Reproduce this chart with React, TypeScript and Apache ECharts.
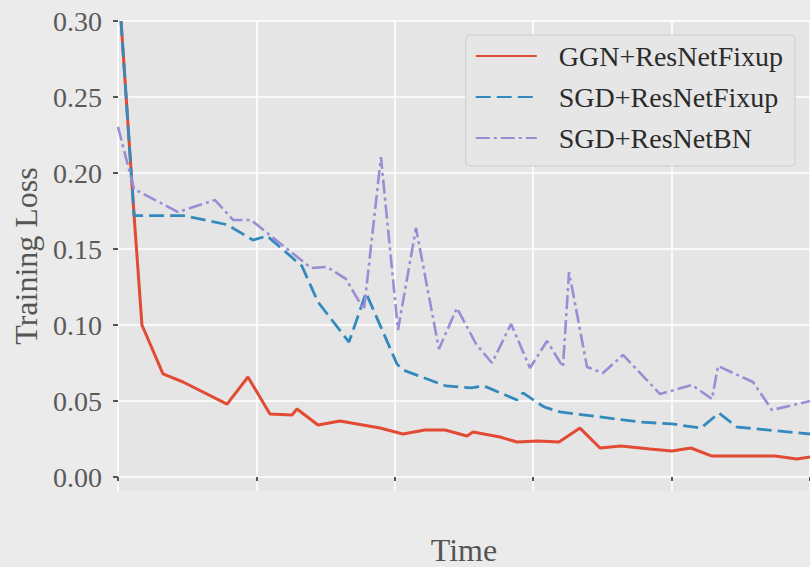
import React, { useEffect, useRef } from "react";
import * as echarts from "echarts";

// Time (x) and training loss (y) values
const ggnTime = [0.022, 0.116, 0.173, 0.325, 0.47, 0.788, 0.939, 1.098, 1.257, 1.293, 1.445, 1.604, 1.893, 2.059, 2.218, 2.363, 2.522, 2.565, 2.76, 2.883, 3.035, 3.186, 3.338, 3.483, 3.634, 3.844, 4.003, 4.14, 4.292, 4.747, 4.906, 5.0];
const ggnLoss = [0.3, 0.1724, 0.1, 0.0678, 0.0625, 0.048, 0.0658, 0.0414, 0.0408, 0.0447, 0.0342, 0.0368, 0.0322, 0.0283, 0.0309, 0.0309, 0.027, 0.0296, 0.0263, 0.023, 0.0237, 0.023, 0.0322, 0.0191, 0.0204, 0.0184, 0.0171, 0.0191, 0.0138, 0.0138, 0.0118, 0.0132];

const sgdFixTime = [0.022, 0.116, 0.47, 0.788, 0.975, 1.077, 1.329, 1.445, 1.669, 1.792, 2.016, 2.059, 2.37, 2.551, 2.645, 2.883, 2.926, 3.078, 3.194, 3.483, 3.772, 4.003, 4.212, 4.342, 4.473, 5.0];
const sgdFixLoss = [0.3, 0.172, 0.172, 0.166, 0.1559, 0.1586, 0.1388, 0.1151, 0.0888, 0.1211, 0.0743, 0.0704, 0.0599, 0.0586, 0.0599, 0.0507, 0.0553, 0.0461, 0.0428, 0.0395, 0.0362, 0.0349, 0.0322, 0.0421, 0.0329, 0.0283];

const sgdBNTime = [0.0, 0.116, 0.434, 0.701, 0.831, 0.961, 1.395, 1.51, 1.647, 1.777, 1.9, 2.023, 2.153, 2.319, 2.449, 2.587, 2.702, 2.84, 2.977, 3.1, 3.215, 3.259, 3.389, 3.504, 3.649, 3.916, 4.147, 4.292, 4.335, 4.588, 4.725, 5.0];
const sgdBNLoss = [0.2303, 0.1895, 0.1743, 0.1822, 0.1691, 0.1691, 0.1375, 0.1382, 0.1303, 0.11, 0.2105, 0.0967, 0.1638, 0.0842, 0.1112, 0.0875, 0.075, 0.1007, 0.0717, 0.0895, 0.0724, 0.1349, 0.0724, 0.0684, 0.0803, 0.0546, 0.0605, 0.0513, 0.073, 0.0625, 0.0441, 0.05];

const yTicks = [0, 0.05, 0.1, 0.15, 0.2, 0.25, 0.3];

const seriesNames = ["GGN+ResNetFixup", "SGD+ResNetFixup", "SGD+ResNetBN"];

const zip = (xs: number[], ys: number[]) => xs.map((x, i) => [x, ys[i]]);

const FONT = "'Liberation Serif', 'DejaVu Serif', serif";

export default function App() {
  const ref = useRef<HTMLDivElement>(null);
  useEffect(() => {
    if (!ref.current) return;
    const chart = echarts.init(ref.current, undefined, { renderer: "svg" });
    chart.setOption({
      animation: false,
      backgroundColor: "#ebebeb",
      grid: {
        left: 118,
        right: 0,
        top: 21,
        bottom: 76,
        containLabel: false,
        outerBoundsMode: "none",
        show: true,
        backgroundColor: "#e5e5e5",
        borderWidth: 0,
      },
      legend: {
        orient: "vertical",
        right: 15,
        top: 35,
        data: seriesNames,
        itemWidth: 61,
        itemHeight: 14,
        itemGap: 9,
        padding: [5, 12, 12, 9],
        backgroundColor: "#e6e6e6",
        borderColor: "#cdcdcd",
        borderWidth: 1,
        borderRadius: 4,
        itemStyle: { opacity: 0 },
        textStyle: {
          fontFamily: FONT,
          fontSize: 28,
          lineHeight: 32,
          color: "#2b2b2b",
          padding: [0, 0, 0, 17],
        },
      },
      xAxis: {
        type: "value",
        min: 0,
        max: 5,
        interval: 1,
        offset: 4,
        name: "Time",
        nameLocation: "middle",
        nameGap: 39,
        nameTextStyle: { fontFamily: FONT, fontSize: 32, color: "#555555" },
        axisLine: { show: false },
        axisTick: { show: true, length: 4, lineStyle: { color: "#555555", width: 2 } },
        axisLabel: { show: false },
        splitLine: { show: true, lineStyle: { color: "#ffffff", width: 1.6 } },
      },
      yAxis: {
        type: "value",
        min: -0.0092,
        max: 0.3,
        name: "Training Loss",
        nameLocation: "middle",
        nameGap: 74,
        nameTextStyle: { fontFamily: FONT, fontSize: 32, color: "#555555" },
        axisLine: { show: false },
        axisTick: {
          show: true,
          length: 5,
          customValues: yTicks,
          lineStyle: { color: "#555555", width: 2 },
        },
        axisLabel: {
          customValues: yTicks,
          margin: 16,
          fontFamily: FONT,
          fontSize: 28,
          color: "#5a5a5a",
          formatter: (v: number) => v.toFixed(2),
        },
        splitLine: { show: true, lineStyle: { color: "#ffffff", width: 1.6 } },
      },
      series: [
        {
          name: seriesNames[0],
          type: "line",
          symbol: "none",
          clip: false,
          data: zip(ggnTime, ggnLoss),
          lineStyle: { color: "#E24A33", width: 3, type: "solid" },
          itemStyle: { color: "#E24A33" },
        },
        {
          name: seriesNames[1],
          type: "line",
          symbol: "none",
          clip: false,
          data: zip(sgdFixTime, sgdFixLoss),
          lineStyle: { color: "#348ABD", width: 2.8, type: [15, 6] },
          itemStyle: { color: "#348ABD" },
        },
        {
          name: seriesNames[2],
          type: "line",
          symbol: "none",
          clip: false,
          data: zip(sgdBNTime, sgdBNLoss),
          lineStyle: { color: "#988ED5", width: 2.6, type: [14, 4, 3, 4] },
          itemStyle: { color: "#988ED5" },
        },
      ],
    });
    return () => chart.dispose();
  }, []);
  return (
    <div
      ref={ref}
      style={{ position: "absolute", left: 0, top: 0, width: 810, height: 567 }}
    />
  );
}
